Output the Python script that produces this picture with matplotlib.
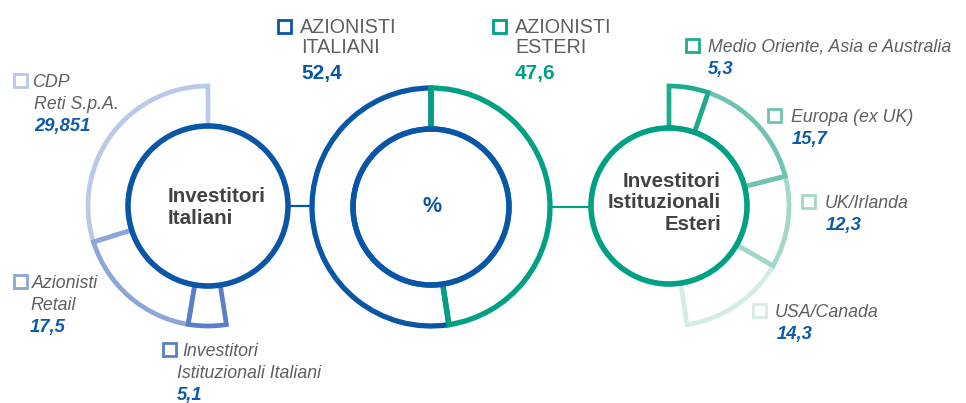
import matplotlib
matplotlib.use("Agg")
import matplotlib.pyplot as plt
from matplotlib.patches import Wedge, Circle, Rectangle

# ---------------- data ----------------
centro_labels = ["AZIONISTI\nITALIANI", "AZIONISTI\nESTERI"]
centro_vals = [52.4, 47.6]
centro_title = "%"

italiani_title = "Investitori\nItaliani"
italiani_labels = ["CDP\nReti S.p.A.", "Azionisti\nRetail", "Investitori\nIstituzionali Italiani"]
italiani_vals = [29.851, 17.5, 5.1]

esteri_title = "Investitori\nIstituzionali\nEsteri"
esteri_labels = ["Medio Oriente, Asia e Australia", "Europa (ex UK)", "UK/Irlanda", "USA/Canada"]
esteri_vals = [5.3, 15.7, 12.3, 14.3]

# ---------------- style ----------------
W, H = 966, 403
BLUE = "#0a56a6"
TEAL = "#00a183"
VAL_BLUE = "#0d5aa8"
GRAY = "#5f5f5f"
DARK = "#424242"
ital_cols = ["#bac9e7", "#8ea5d7", "#5b7fc6"]
est_cols = ["#1fab8e", "#6fc4b1", "#a3d7c9", "#d3ede6"]
FONT = "Liberation Sans"

fig = plt.figure(figsize=(W / 100, H / 100), dpi=100)
ax = fig.add_axes([0, 0, 1, 1])
ax.set_xlim(0, W)
ax.set_ylim(0, H)
ax.set_aspect("equal")
ax.axis("off")


def Y(yp):
    return H - yp


def fmt(v):
    return f"{v:g}".replace(".", ",")


# ---------------- central donut ----------------
cc = (431, Y(207))
r_out, r_in = 119, 78
tot = sum(centro_vals)
ang_est = centro_vals[1] / tot * 360
ax.add_patch(Wedge(cc, r_out, 90, 90 + 360 - ang_est, width=r_out - r_in,
                   fill=False, edgecolor=BLUE, lw=3.8))
ax.add_patch(Wedge(cc, r_out, 90 - ang_est, 90, width=r_out - r_in,
                   fill=False, edgecolor=TEAL, lw=3.8))
ax.add_patch(Circle(cc, r_in, fill=False, edgecolor=BLUE, lw=4.0))
ax.text(cc[0] + 1, cc[1] + 1, centro_title, ha="center", va="center", color=BLUE,
        fontsize=15.5, fontweight="bold", family=FONT)

# ---------------- left ring (Italiani) ----------------
lc = (208, Y(206))
lr_in, lr_out = 80, 120
start = 90.0
for v, col in zip(italiani_vals, ital_cols):
    span = v / 100 * 360
    ax.add_patch(Wedge(lc, lr_out, start, start + span, width=lr_out - lr_in,
                       fill=False, edgecolor=col, lw=3.4))
    start += span
ax.add_patch(Circle(lc, lr_in, fill=False, edgecolor=BLUE, lw=4.0))
ax.plot([lc[0] + lr_in + 1, cc[0] - r_out - 1], [Y(206), Y(206)], color=BLUE, lw=1.6)
for i, line in enumerate(italiani_title.split("\n")):
    ax.text(168, Y(202 + 22 * i), line, ha="left", va="baseline", color=DARK,
            fontsize=14.8, fontweight="bold", family=FONT)

# ---------------- right ring (Esteri) ----------------
rc = (669, Y(206))
rr_in, rr_out = 78, 120
starts = []
s = 90.0
for v in esteri_vals:
    span = v / 100 * 360
    starts.append((s - span, s))
    s -= span
for (t1, t2), col in reversed(list(zip(starts, est_cols))):
    ax.add_patch(Wedge(rc, rr_out, t1, t2, width=rr_out - rr_in,
                       fill=False, edgecolor=col, lw=3.4))
ax.add_patch(Circle(rc, rr_in, fill=False, edgecolor=TEAL, lw=4.0))
ax.plot([cc[0] + r_out + 1, rc[0] - rr_in - 1], [Y(207), Y(207)], color=TEAL, lw=1.6)
for i, line in enumerate(esteri_title.split("\n")):
    ax.text(721, Y(187 + 21.5 * i), line, ha="right", va="baseline", color=DARK,
            fontsize=14.8, fontweight="bold", family=FONT)


# ---------------- labels ----------------
def legend_label(sq_x, x1, x2, base, label, value, sq_col, val_col,
                 size=12.8, style="italic", lsp=22, vsp=22, vsize=13.2, weight="normal"):
    ax.add_patch(Rectangle((sq_x + 1.3, Y(base + 1) + 1.3), 12.4, 12.4, fill=False,
                           edgecolor=sq_col, lw=2.0))
    lines = label.split("\n")
    y = base
    for i, line in enumerate(lines):
        ax.text(x1 if i == 0 else x2, Y(y), line, ha="left", va="baseline",
                color=GRAY, fontsize=size, fontstyle=style, fontweight=weight, family=FONT)
        y += lsp
    y += vsp - lsp
    ax.text(x2, Y(y), fmt(value), ha="left", va="baseline", color=val_col,
            fontsize=vsize, fontstyle=style, fontweight="bold", family=FONT)


# central legend
legend_label(277, 300, 301, 33, centro_labels[0], centro_vals[0], BLUE, BLUE,
             size=14.2, style="normal", lsp=20, vsp=26, vsize=15)
legend_label(492, 515, 515, 33, centro_labels[1], centro_vals[1], TEAL, TEAL,
             size=14.2, style="normal", lsp=20, vsp=26, vsize=15)

# left legend
ital_pos = [(13, 32, 34, 87), (13, 32, 30, 288), (162, 182, 177, 356)]
for (sx, x1, x2, b), lab, v, col in zip(ital_pos, italiani_labels, italiani_vals, ital_cols):
    legend_label(sx, x1, x2, b, lab, v, col, VAL_BLUE)

# right legend
est_pos = [(685, 708, 708, 52), (767, 791, 792, 122), (801, 825, 826, 208), (752, 775, 777, 317)]
for (sx, x1, x2, b), lab, v, col in zip(est_pos, esteri_labels, esteri_vals, est_cols):
    legend_label(sx, x1, x2, b, lab, v, col, VAL_BLUE)

fig.savefig("out.png", dpi=100)
